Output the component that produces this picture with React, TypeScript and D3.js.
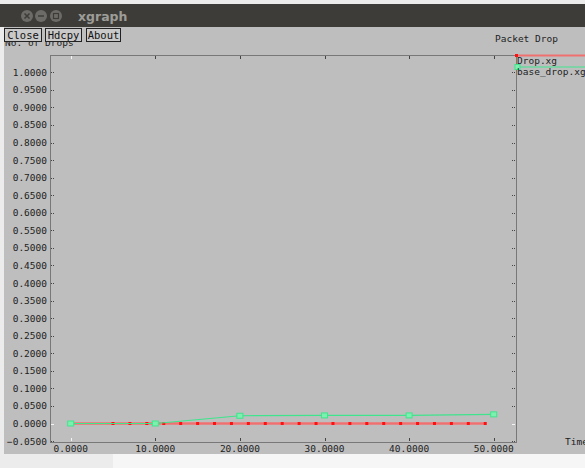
import React from 'react';
import * as d3 from 'd3';

// data
const dropTimes = [0, 5, 7, 9, 11, 13, 15, 17, 19, 21, 23, 25, 27, 29, 31, 33, 35, 37, 39, 41, 43, 45, 47, 49];
const dropValues = dropTimes.map(() => 0);
const baseTimes = [0, 10, 20, 30, 40, 50];
const baseValues = [0, 0, 0.022, 0.023, 0.023, 0.026];
const yTicks = d3.range(-1, 21).map(i => +(i * 0.05).toFixed(4));
const xTicks = [0, 10, 20, 30, 40, 50];
const legendNames = ['Drop.xg', 'base_drop.xg'];
const buttons = ['Close', 'Hdcpy', 'About'];

const W = 585;
const H = 468;
const box = { left: 50, right: 516, top: 55, bottom: 442 };
const mono = '"DejaVu Sans Mono", monospace';
const redLine = '#f07070';
const redMark = '#ff1010';
const green = '#3ee58c';

const App: React.FC = () => {
  const x = d3.scaleLinear().domain([0, 50]).range([70.7, 493.7]);
  const y = d3.scaleLinear().domain([0, 1]).range([423.5, 72.3]);

  const drop = dropTimes.map((t, i) => [t, dropValues[i]] as [number, number]);
  const base = baseTimes.map((t, i) => [t, baseValues[i]] as [number, number]);
  const line = d3.line<[number, number]>().x(d => x(d[0])).y(d => y(d[1]));

  const buttonX = [4, 45, 86];
  const buttonW = [37, 36, 34];

  return (
    <svg width={W} height={H} style={{ position: 'absolute', left: 0, top: 0 }}>
      {/* desktop / window chrome */}
      <rect x={0} y={0} width={W} height={H} fill="#ececec" />
      <rect x={0} y={4} width={W} height={23} fill="#3d3c38" />
      {[27, 41, 56].map((cx, i) => (
        <g key={i}>
          <circle cx={cx} cy={16} r={6} fill="#6c6b67" />
          {i === 0 && <path d={`M${cx - 2.5},13.5 L${cx + 2.5},18.5 M${cx + 2.5},13.5 L${cx - 2.5},18.5`} stroke="#3d3c38" strokeWidth={1.5} />}
          {i === 1 && <line x1={cx - 3} x2={cx + 3} y1={16} y2={16} stroke="#3d3c38" strokeWidth={1.5} />}
          {i === 2 && <rect x={cx - 2.5} y={13.5} width={5} height={5} fill="none" stroke="#3d3c38" strokeWidth={1.2} />}
        </g>
      ))}
      <text x={78} y={21} fontFamily="DejaVu Sans" fontWeight="bold" fontSize={12.5} fill="#9d9c98">xgraph</text>
      <rect x={4} y={27} width={W - 4} height={427} fill="#bebebe" />
      <rect x={113} y={454} width={W - 113} height={14} fill="#f6f6f6" />

      {/* y axis label, partly under the buttons */}
      <text x={5} y={46} fontFamily={mono} fontSize={9.5} fill="#222">No. of Drops</text>
      {buttons.map((b, i) => (
        <g key={b}>
          <rect x={buttonX[i] + 0.5} y={28.5} width={buttonW[i]} height={13} fill="#c9c9c9" stroke="#222" />
          <text x={buttonX[i] + buttonW[i] / 2 + 0.5} y={39} textAnchor="middle" fontFamily={mono} fontSize={10.5} fill="#111">{b}</text>
        </g>
      ))}
      <text x={495} y={42} fontFamily={mono} fontSize={9.5} fill="#222">Packet Drop</text>

      {/* axis frame */}
      <rect x={box.left + 0.5} y={box.top + 0.5} width={box.right - box.left} height={box.bottom - box.top}
        fill="none" stroke="#333" strokeDasharray="1,1" />

      {yTicks.map(v => (
        <g key={v}>
          <line x1={box.left + 1} x2={box.left + 4} y1={Math.round(y(v)) + 0.5} y2={Math.round(y(v)) + 0.5}
            stroke={v === 0 ? '#f4f4f4' : '#444'} strokeDasharray={v === 0 ? undefined : '1,1'} />
          <line x1={box.right - 4} x2={box.right - 1} y1={Math.round(y(v)) + 0.5} y2={Math.round(y(v)) + 0.5}
            stroke={v === 0 ? '#f4f4f4' : '#444'} strokeDasharray={v === 0 ? undefined : '1,1'} />
          <text x={47} y={y(v) + 3.5} textAnchor="end" fontFamily={mono} fontSize={9.5} fill="#222">
            {v.toFixed(4).replace('-', '\u2212')}
          </text>
        </g>
      ))}

      {xTicks.map(v => (
        <g key={v}>
          <line x1={Math.round(x(v)) + 0.5} x2={Math.round(x(v)) + 0.5} y1={box.top + 1} y2={box.top + 4}
            stroke={v === 0 ? '#f4f4f4' : '#444'} />
          <line x1={Math.round(x(v)) + 0.5} x2={Math.round(x(v)) + 0.5} y1={box.bottom - 4} y2={box.bottom - 1}
            stroke={v === 0 ? '#f4f4f4' : '#444'} />
          <text x={x(v)} y={452} textAnchor="middle" fontFamily={mono} fontSize={9.5} fill="#222">{v.toFixed(4)}</text>
        </g>
      ))}
      <text x={565} y={445} fontFamily={mono} fontSize={9.5} fill="#222">Time</text>

      {/* Drop.xg */}
      <path d={line(drop) ?? ''} fill="none" stroke={redLine} strokeWidth={2.5} />
      {drop.map((d, i) => (
        <rect key={i} x={x(d[0]) - 1.5} y={y(d[1]) - 1.5} width={3} height={3} fill={redMark} />
      ))}

      {/* base_drop.xg */}
      <path d={line(base) ?? ''} fill="none" stroke={green} strokeWidth={1.2} />
      {base.map((d, i) => (
        <rect key={i} x={x(d[0]) - 3} y={y(d[1]) - 2.5} width={6} height={5} fill="#7df0b0" stroke={green} strokeWidth={1} />
      ))}

      {/* legend */}
      <line x1={box.right} x2={W} y1={box.top + 0.5} y2={box.top + 0.5} stroke={redLine} strokeWidth={2} />
      <rect x={box.right - 1} y={box.top - 1} width={3} height={3} fill={redMark} />
      <text x={517} y={64} fontFamily={mono} fontSize={9.5} fill="#222">{legendNames[0]}</text>
      <line x1={box.right} x2={W} y1={67} y2={67} stroke={green} strokeWidth={1.2} />
      <rect x={box.right - 1} y={64.5} width={5} height={5} fill="#7df0b0" stroke={green} />
      <text x={517} y={75} fontFamily={mono} fontSize={9.5} fill="#222">{legendNames[1]}</text>
    </svg>
  );
};

export default App;
